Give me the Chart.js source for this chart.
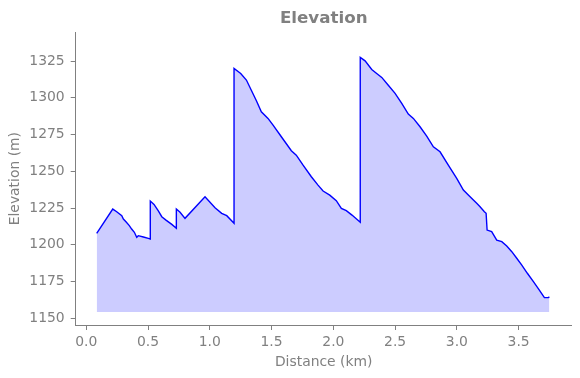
<!DOCTYPE html>
<html>
<head>
<meta charset="utf-8">
<script src="https://cdn.jsdelivr.net/npm/chart.js@4/dist/chart.umd.min.js"></script>
<style>
  html, body { margin: 0; padding: 0; background: #fff; }
  #chart { display: block; }
</style>
</head>
<body>
<canvas id="chart" width="580" height="378"></canvas>
<script>
// profile points (km, m)
const distanceKm = [
    0.084, 0.214, 0.246, 0.287, 0.300, 0.321, 0.348, 0.367, 0.389, 0.408, 0.421, 0.462, 0.502, 0.518,
    0.518, 0.548, 0.583, 0.611, 0.645, 0.692, 0.729,
    0.729, 0.759, 0.799, 0.961, 1.042, 1.096, 1.137, 1.196,
    1.196, 1.250, 1.296, 1.336, 1.377, 1.417, 1.471, 1.512, 1.579, 1.660, 1.700, 1.755, 1.822, 1.876, 1.917, 1.971, 2.024, 2.065, 2.105, 2.151, 2.218,
    2.218, 2.257, 2.311, 2.351, 2.392, 2.445, 2.500, 2.554, 2.607, 2.648, 2.702, 2.756, 2.810, 2.864, 2.931, 2.999, 3.053, 3.093, 3.134, 3.161, 3.188, 3.223, 3.237,
    3.245, 3.282, 3.323, 3.364, 3.404, 3.445, 3.485, 3.526, 3.571, 3.620, 3.668, 3.709, 3.741, 3.749
];
const elevationM = [
    1207.8, 1224.3, 1222.5, 1219.8, 1217.5, 1215.7, 1213.0, 1210.7, 1208.5, 1205.1, 1206.2, 1205.3, 1204.4, 1203.9,
    1229.8, 1227.5, 1223.0, 1219.1, 1216.8, 1213.9, 1211.2,
    1224.3, 1222.1, 1218.0, 1232.7, 1225.2, 1221.4, 1219.8, 1214.6,
    1320.0, 1316.6, 1312.1, 1305.2, 1298.0, 1290.5, 1286.0, 1281.4, 1273.5, 1264.0, 1261.0, 1254.2, 1246.3, 1240.6, 1236.6, 1233.8, 1230.0, 1224.8, 1223.2, 1220.2, 1215.3,
    1327.5, 1325.2, 1319.3, 1316.6, 1313.9, 1308.6, 1303.0, 1296.2, 1288.9, 1286.0, 1280.3, 1274.0, 1266.7, 1263.3, 1254.2, 1245.2, 1237.2, 1233.8, 1230.4, 1228.2, 1225.9, 1222.5, 1221.4,
    1210.0, 1208.9, 1203.2, 1202.1, 1199.2, 1195.3, 1190.8, 1186.2, 1180.6, 1174.9, 1169.2, 1164.0, 1164.0, 1164.7
];
const fillBase = 1154.3;

const xTicks = [0, 0.5, 1.0, 1.5, 2.0, 2.5, 3.0, 3.5];
const yTicks = [1150, 1175, 1200, 1225, 1250, 1275, 1300, 1325];

const grey = '#808080';
const fontFamily = "'DejaVu Sans', sans-serif";

var points = [];
for (var i = 0; i < distanceKm.length; i++) {
    points.push({x: distanceKm[i], y: elevationM[i]});
}

// title centred over the plot area, like the original
const plotTitle = {
    id: 'plotTitle',
    afterDraw: function(chart) {
        const ctx = chart.ctx;
        const area = chart.chartArea;
        ctx.save();
        ctx.font = 'bold 16.7px ' + fontFamily;
        ctx.fillStyle = grey;
        ctx.textAlign = 'center';
        ctx.textBaseline = 'middle';
        ctx.fillText('Elevation', (area.left + area.right) / 2, 19);
        ctx.restore();
    }
};

function axisLook(tickPad) {
    return {
        grid: { display: true, drawOnChartArea: false, drawTicks: true, tickLength: 5, tickColor: grey, tickWidth: 1 },
        border: { display: true, color: grey, width: 1 },
        ticks: { color: grey, padding: tickPad, font: { family: fontFamily, size: 13.9 } }
    };
}

const xAxis = axisLook(4);
xAxis.type = 'linear';
xAxis.min = -0.086;
xAxis.max = 3.93;
xAxis.afterBuildTicks = function(axis) { axis.ticks = xTicks.map(v => ({value: v})); };
xAxis.ticks.callback = function(v) { return Number(v).toFixed(1); };
xAxis.ticks.maxRotation = 0;
xAxis.title = { display: true, text: 'Distance (km)', color: grey, font: { family: fontFamily, size: 13.9 }, padding: { top: 0, bottom: 7 } };
xAxis.afterFit = function(scale) { scale.height = 53; };

const yAxis = axisLook(6);
yAxis.type = 'linear';
yAxis.min = 1145.4;
yAxis.max = 1344.6;
yAxis.afterBuildTicks = function(axis) { axis.ticks = yTicks.map(v => ({value: v})); };
yAxis.ticks.callback = function(v) { return String(v); };
yAxis.title = { display: true, text: 'Elevation (m)', color: grey, font: { family: fontFamily, size: 13.9 }, padding: { top: 7, bottom: 0 } };
yAxis.afterFit = function(scale) { scale.width = 75.7; };

new Chart(document.getElementById('chart'), {
    type: 'line',
    data: {
        datasets: [{
            data: points,
            borderColor: '#0000ff',
            borderWidth: 1.4,
            backgroundColor: 'rgba(0, 0, 255, 0.2)',
            fill: { value: fillBase },
            pointRadius: 0,
            tension: 0
        }]
    },
    options: {
        responsive: false,
        animation: false,
        layout: { padding: { left: 0, right: 8.3, top: 32.3, bottom: 0 } },
        plugins: {
            legend: { display: false },
            title: { display: false },
            tooltip: { enabled: false }
        },
        scales: { x: xAxis, y: yAxis }
    },
    plugins: [plotTitle]
});
</script>
</body>
</html>
